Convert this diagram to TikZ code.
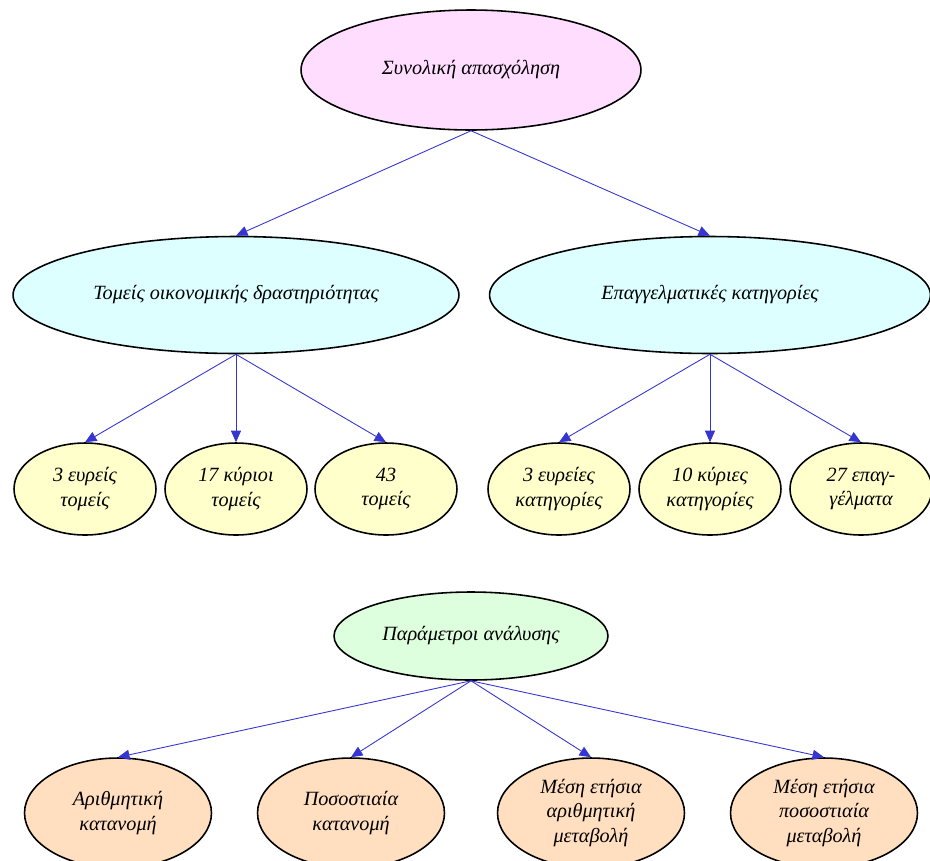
\documentclass[tikz,border=0pt]{standalone}
\usepackage{fontspec}
\setmainfont{Liberation Serif}
\usepackage{tikz}
\usetikzlibrary{shapes.geometric,arrows.meta}
\definecolor{pinkfill}{HTML}{FFDDFF}
\definecolor{cyanfill}{HTML}{DDFFFF}
\definecolor{yellowfill}{HTML}{FFFFCC}
\definecolor{greenfill}{HTML}{DDFFDD}
\definecolor{peachfill}{HTML}{FFDFC0}
\definecolor{edgeblue}{HTML}{3535D0}
\begin{document}
\begin{tikzpicture}[x=0.02cm,y=-0.02cm,
  box/.style={ellipse,draw,line width=0.9pt,inner sep=0pt,align=center,font=\itshape\fontsize{11.5}{13.8}\selectfont},
  link/.style={draw=edgeblue,line width=0.5pt,-{Triangle[length=0.23cm,width=0.2cm,fill=edgeblue]}}]
\useasboundingbox (0,0) rectangle (930,860);
\node[box,fill=pinkfill,minimum width=6.8cm,minimum height=2.4cm] (total) at (471,70) {Συνολική απασχόληση};
\node[box,fill=cyanfill,minimum width=8.92cm,minimum height=2.34cm] (sectors) at (236,295) {Τομείς οικονομικής δραστηριότητας};
\node[box,fill=cyanfill,minimum width=8.82cm,minimum height=2.34cm] (occup) at (710,295) {Επαγγελματικές κατηγορίες};
\node[box,fill=yellowfill,minimum width=2.84cm,minimum height=1.84cm] (sec3) at (85,489) {3 ευρείς\\τομείς};
\node[box,fill=yellowfill,minimum width=2.84cm,minimum height=1.84cm] (sec17) at (236,489) {17 κύριοι\\τομείς};
\node[box,fill=yellowfill,minimum width=2.84cm,minimum height=1.84cm] (sec43) at (386,489) {43\\τομείς};
\node[box,fill=yellowfill,minimum width=2.84cm,minimum height=1.84cm] (occ3) at (559,489) {3 ευρείες\\κατηγορίες};
\node[box,fill=yellowfill,minimum width=2.84cm,minimum height=1.84cm] (occ10) at (710,489) {10 κύριες\\κατηγορίες};
\node[box,fill=yellowfill,minimum width=2.84cm,minimum height=1.84cm] (occ27) at (861,489) {27 επαγ-\\γέλματα};
\node[box,fill=greenfill,minimum width=5.48cm,minimum height=1.76cm] (params) at (471,636) {Παράμετροι ανάλυσης};
\node[box,fill=peachfill,minimum width=3.74cm,minimum height=2.2cm] (absdist) at (118,813) {Αριθμητική\\κατανομή};
\node[box,fill=peachfill,minimum width=3.74cm,minimum height=2.2cm] (pctdist) at (351,813) {Ποσοστιαία\\κατανομή};
\node[box,fill=peachfill,minimum width=3.74cm,minimum height=2.2cm] (abschg) at (591,813) {Μέση ετήσια\\αριθμητική\\μεταβολή};
\node[box,fill=peachfill,minimum width=3.74cm,minimum height=2.2cm] (pctchg) at (824,813) {Μέση ετήσια\\ποσοστιαία\\μεταβολή};
\draw[link] (total.south) -- (sectors.north);
\draw[link] (total.south) -- (occup.north);
\draw[link] (sectors.south) -- (sec3.north);
\draw[link] (sectors.south) -- (sec17.north);
\draw[link] (sectors.south) -- (sec43.north);
\draw[link] (occup.south) -- (occ3.north);
\draw[link] (occup.south) -- (occ10.north);
\draw[link] (occup.south) -- (occ27.north);
\draw[link] (params.south) -- (absdist.north);
\draw[link] (params.south) -- (pctdist.north);
\draw[link] (params.south) -- (abschg.north);
\draw[link] (params.south) -- (pctchg.north);
\end{tikzpicture}
\end{document}
